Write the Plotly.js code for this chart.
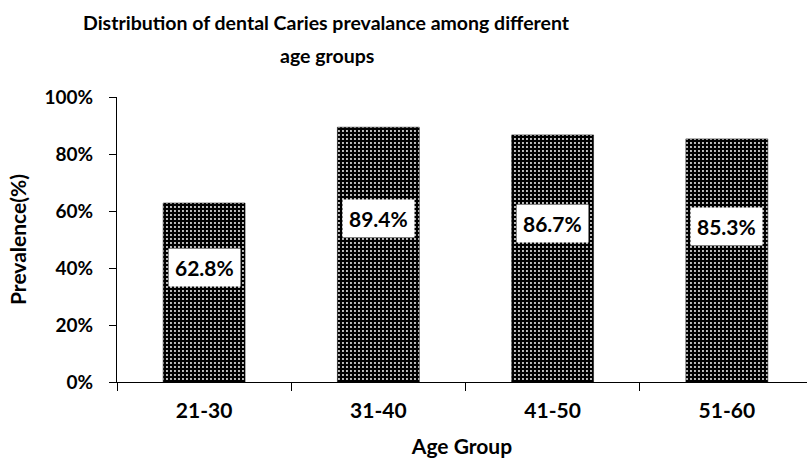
<!DOCTYPE html>
<html><head><meta charset="utf-8">
<script src="https://cdn.plot.ly/plotly-3.0.1.min.js"></script>
<style>body{margin:0;background:#fff}#c{width:807px;height:461px}</style>
</head><body><div id="c"></div>
<script>
const ageGroups = ["21-30", "31-40", "41-50", "51-60"];
const prevalence = [62.8, 89.4, 86.7, 85.3];
const valueLabels = ["62.8%", "89.4%", "86.7%", "85.3%"];
const yTicks = [0, 20, 40, 60, 80, 100];
const yTickText = ["0%", "20%", "40%", "60%", "80%", "100%"];
const titleLines = ["Distribution of dental Caries prevalance among different", "age groups"];

const F = 'Lato, "Open Sans", sans-serif';

const trace = {
  type: 'bar',
  x: ageGroups,
  y: prevalence,
  width: 0.47,
  marker: {
    color: '#000',
    line: {color: '#000', width: 0.5},
    pattern: {shape: '.', bgcolor: '#000', fgcolor: '#fff', size: 4, solidity: 0.18}
  },
  hoverinfo: 'none'
};

const annotations = ageGroups.map((g, i) => ({
  x: g, y: prevalence[i] * 0.64, xref: 'x', yref: 'y',
  text: '<b>' + valueLabels[i] + '</b>', showarrow: false,
  bgcolor: '#fff', borderpad: 6,
  font: {family: F, size: 21, color: '#000'}
}));

const titleY = [1.263, 1.147];
titleLines.forEach((t, i) => annotations.push({
  x: 0.304, y: titleY[i], xref: 'paper', yref: 'paper',
  xanchor: 'center', yanchor: 'middle', showarrow: false,
  text: '<b>' + t + '</b>',
  font: {family: F, size: 19.5, color: '#000'}
}));

const layout = {
  width: 807, height: 461,
  margin: {l: 117, r: 0, t: 97, b: 79},
  paper_bgcolor: '#fff', plot_bgcolor: '#fff',
  showlegend: false,
  xaxis: {
    type: 'category',
    range: [-0.5, 3.46],
    tickson: 'boundaries',
    ticks: 'outside', ticklen: 8, tickcolor: '#000',
    showline: true, linecolor: '#000', linewidth: 1,
    showgrid: false, zeroline: false,
    tickvals: ageGroups, ticktext: ageGroups.map(t => '<b>' + t + '</b>'),
    ticklabelstandoff: 10,
    tickfont: {family: F, size: 21, color: '#000'},
    title: {text: '<b>Age Group</b>', font: {family: F, size: 21, color: '#000'}, standoff: 18}
  },
  yaxis: {
    range: [0, 100],
    tickvals: yTicks, ticktext: yTickText.map(t => '<b>' + t + '</b>'),
    ticks: 'outside', ticklen: 7, tickcolor: '#000',
    showline: true, linecolor: '#000', linewidth: 1,
    showgrid: false, zeroline: false,
    ticklabelstandoff: 12,
    tickfont: {family: F, size: 19, color: '#000'},
    title: {text: '<b>Prevalence(%)</b>', font: {family: F, size: 21, color: '#000'}, standoff: 12}
  },
  annotations: annotations
};

Plotly.newPlot('c', [trace], layout, {displayModeBar: false, staticPlot: true});
</script></body></html>
